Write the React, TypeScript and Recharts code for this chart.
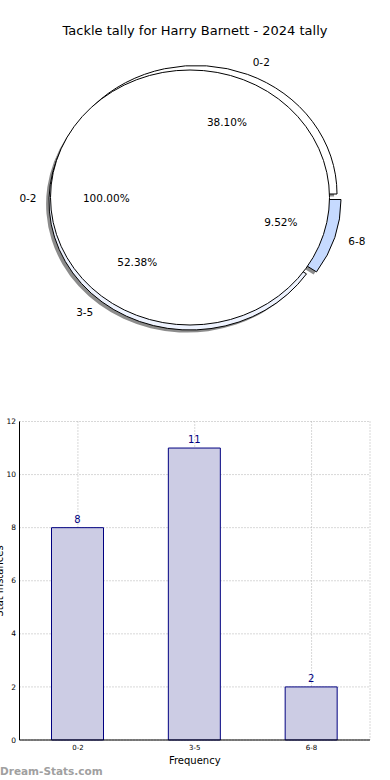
import React from 'react';
import { PieChart, Pie, Cell, BarChart, Bar, XAxis, YAxis, CartesianGrid, LabelList } from 'recharts';

// ---- data ----
const categories = ['0-2', '3-5', '6-8'];
const tallies = [8, 11, 2];
const sliceColors = ['#ffffff', '#eef3ff', '#c6daff'];
const overlayCategories = ['0-2'];
const overlayTallies = [8];
const yTicks = [0, 2, 4, 6, 8, 10, 12];

const pieData = categories.map((name, i) => ({ name, value: tallies[i] }));
const overlayData = overlayCategories.map((name, i) => ({ name, value: overlayTallies[i] }));
const barData = categories.map((name, i) => ({ name, count: tallies[i] }));

const FONT = "'DejaVu Sans', sans-serif";
const RAD = Math.PI / 180;

// ---- pie geometry (elliptical, exploded) ----
const EXP = { rx: 141, ry: 128.5 };
const FULL = { rx: 139.5, ry: 127.5 };
const explodeOffsets: Record<string, [number, number]> = {
  '0-2': [3, -4],
  '3-5': [-3, 3.5],
  '6-8': [7, 1.5],
};
const SHADOW: [number, number] = [-2.9, 2.6];

function sectorPath(cx: number, cy: number, rx: number, ry: number, a0: number, a1: number) {
  const x0 = cx + rx * Math.cos(a0 * RAD);
  const y0 = cy - ry * Math.sin(a0 * RAD);
  const x1 = cx + rx * Math.cos(a1 * RAD);
  const y1 = cy - ry * Math.sin(a1 * RAD);
  const large = Math.abs(a1 - a0) > 180 ? 1 : 0;
  const sweep = a1 > a0 ? 0 : 1;
  return `M${cx},${cy} L${x0},${y0} A${rx},${ry} 0 ${large} ${sweep} ${x1},${y1} Z`;
}

function sliceName(props: any): string {
  return props.name ?? (props.payload && props.payload.name);
}

const makeShape = (
  geom: { rx: number; ry: number },
  offsets: Record<string, [number, number]> | null,
  extra: [number, number],
  paint: { fill?: string; stroke: string; strokeWidth: number; fillOpacity?: number } | null
) => (props: any) => {
  const name = sliceName(props);
  const off = offsets ? offsets[name] || [0, 0] : [0, 0];
  const cx = props.cx + off[0] + extra[0];
  const cy = props.cy + off[1] + extra[1];
  if (!paint) return <g />;
  const fill = paint.fill ?? props.fill;
  const span = Math.abs(props.endAngle - props.startAngle);
  if (span >= 359.99) {
    return (
      <ellipse cx={cx} cy={cy} rx={geom.rx} ry={geom.ry} fill={fill} fillOpacity={paint.fillOpacity ?? 1}
        stroke={paint.stroke} strokeWidth={paint.strokeWidth} />
    );
  }
  return (
    <path d={sectorPath(cx, cy, geom.rx, geom.ry, props.startAngle, props.endAngle)} fill={fill}
      fillOpacity={paint.fillOpacity ?? 1} stroke={paint.stroke} strokeWidth={paint.strokeWidth}
      strokeLinejoin="miter" />
  );
};

const makeLabel = (geom: { rx: number; ry: number }, offsets: Record<string, [number, number]> | null) => (props: any) => {
  const name = sliceName(props);
  const off = offsets ? offsets[name] || [0, 0] : [0, 0];
  const cx = props.cx + off[0];
  const cy = props.cy + off[1];
  const c = Math.cos(props.midAngle * RAD);
  const s = Math.sin(props.midAngle * RAD);
  const lx = cx + 1.1 * geom.rx * c;
  const ly = cy - 1.1 * geom.ry * s;
  const px = cx + 0.6 * geom.rx * c;
  const py = cy - 0.6 * geom.ry * s;
  return (
    <g key={`lbl-${name}-${props.index}`}>
      <text x={lx} y={ly} textAnchor={c >= 0 ? 'start' : 'end'} dominantBaseline="central"
        fontFamily={FONT} fontSize={10.5} fill="#000">{name}</text>
      <text x={px} y={py} textAnchor="middle" dominantBaseline="central"
        fontFamily={FONT} fontSize={10.5} fill="#000">{(props.percent * 100).toFixed(2)}%</text>
    </g>
  );
};

export default function App() {
  return (
    <div style={{ position: 'absolute', left: 0, top: 0, width: 390, height: 780, background: '#fff', overflow: 'hidden' }}>
      <div style={{ position: 'absolute', left: 0, top: 0 }}>
        <PieChart width={390} height={370} margin={{ top: 0, right: 0, bottom: 0, left: 0 }}>
          {/* shadows */}
          <Pie data={pieData} dataKey="value" nameKey="name" cx={193} cy={198} outerRadius={140}
            startAngle={0} endAngle={360} isAnimationActive={false} labelLine={false} label={false}
            stroke="none" fill="#000"
            shape={makeShape(EXP, explodeOffsets, SHADOW, { fill: '#000', fillOpacity: 0.45, stroke: 'none', strokeWidth: 0 })}>
            {pieData.map((d) => <Cell key={`s-${d.name}`} fill="#000" />)}
          </Pie>
          {/* exploded pie */}
          <Pie data={pieData} dataKey="value" nameKey="name" cx={193} cy={198} outerRadius={140}
            startAngle={0} endAngle={360} isAnimationActive={false} labelLine={false} label={false}
            stroke="#000"
            shape={makeShape(EXP, explodeOffsets, [0, 0], { stroke: '#000', strokeWidth: 1 })}>
            {pieData.map((d, i) => <Cell key={`e-${d.name}`} fill={sliceColors[i]} />)}
          </Pie>
          {/* overlay full pie */}
          <Pie data={overlayData} dataKey="value" nameKey="name" cx={190} cy={197.5} outerRadius={135}
            startAngle={0} endAngle={360} isAnimationActive={false} labelLine={false}
            label={makeLabel(FULL, null)} stroke="#000"
            shape={makeShape(FULL, null, [0, 0], { fill: '#ffffff', stroke: '#000', strokeWidth: 1 })}>
            {overlayData.map((d) => <Cell key={`o-${d.name}`} fill="#ffffff" />)}
          </Pie>
          {/* labels of exploded pie on top */}
          <Pie data={pieData} dataKey="value" nameKey="name" cx={193} cy={198} outerRadius={140}
            startAngle={0} endAngle={360} isAnimationActive={false} labelLine={false}
            label={makeLabel(EXP, explodeOffsets)} fill="none" stroke="none"
            shape={makeShape(EXP, explodeOffsets, [0, 0], null)} />
        </PieChart>
      </div>

      <div style={{ position: 'absolute', left: 0, top: 400 }}>
        <BarChart width={390} height={380} data={barData} margin={{ top: 21.5, right: 20, bottom: 0, left: 0 }}>
          <CartesianGrid stroke="#b0b0b0" strokeDasharray="1 2" />
          <XAxis dataKey="name" height={40} tickLine={false} tickSize={0} tickMargin={5}
            axisLine={{ stroke: '#000', strokeWidth: 1 }}
            tick={{ fontSize: 7, fill: '#000', fontFamily: FONT }}
            label={{ value: 'Frequency', position: 'insideBottom', offset: 16, fontSize: 10, fill: '#000', fontFamily: FONT }} />
          <XAxis xAxisId="top" orientation="top" dataKey="name" height={0} tick={false} tickLine={false}
            axisLine={{ stroke: '#000', strokeWidth: 1 }} />
          <YAxis domain={[0, 12]} ticks={yTicks} width={19.5} tickLine={false} tickSize={0} tickMargin={3.5}
            axisLine={{ stroke: '#000', strokeWidth: 1 }} interval={0}
            tick={{ fontSize: 7.5, fill: '#000', fontFamily: FONT }} />
          <YAxis yAxisId="right" orientation="right" width={0} tick={false} tickLine={false}
            axisLine={{ stroke: '#000', strokeWidth: 1 }} />
          <Bar dataKey="count" barSize={52} fill="#ccccE4" stroke="#000080" strokeWidth={1} isAnimationActive={false}>
            <LabelList dataKey="count" position="top" offset={5} fill="#000080" fontSize={10} fontFamily={FONT} />
          </Bar>
        </BarChart>
      </div>

      <svg width={390} height={780} style={{ position: 'absolute', left: 0, top: 0, pointerEvents: 'none' }}>
        <text x={195} y={30} textAnchor="middle" dominantBaseline="central" fontFamily={FONT} fontSize={13} fill="#000">
          Tackle tally for Harry Barnett - 2024 tally
        </text>
        <text x={2.5} y={581} transform="rotate(-90 2.5 581)" textAnchor="middle" fontFamily={FONT} fontSize={10} fill="#000">
          Stat Instances
        </text>
        <text x={0} y={775} fontFamily={FONT} fontSize={10.5} fontWeight="bold" fill="#a0a0a0">
          Dream-Stats.com
        </text>
      </svg>
    </div>
  );
}
